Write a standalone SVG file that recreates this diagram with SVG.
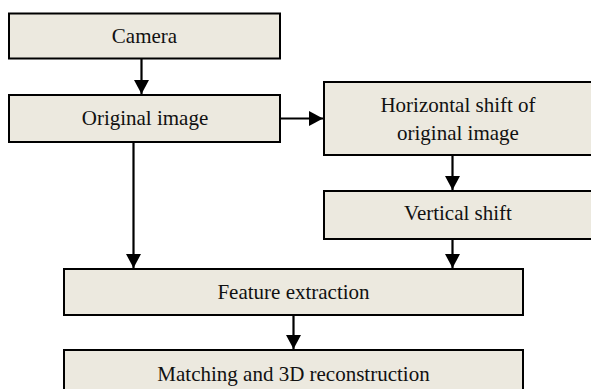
<svg xmlns="http://www.w3.org/2000/svg" width="591" height="389" viewBox="0 0 591 389">
  <style>
    .box { fill: #ECE9DF; stroke: #000; stroke-width: 2; }
    .lbl { font-family: "Liberation Serif", "Times New Roman", serif; font-size: 21px; fill: #111; text-anchor: middle; }
    .wire { stroke: #000; stroke-width: 2.2; fill: none; marker-end: url(#head); }
  </style>
  <defs>
    <marker id="head" markerUnits="userSpaceOnUse" markerWidth="16" markerHeight="15" refX="14" refY="7.5" orient="auto">
      <path d="M0,0 L14,7.5 L0,15 Z" fill="#000"/>
    </marker>
  </defs>
  <rect width="591" height="389" fill="#fff"/>

  <g id="connectors">
    <line class="wire" x1="141.5" y1="58" x2="141.5" y2="94"/>
    <line class="wire" x1="281" y1="118.5" x2="323" y2="118.5"/>
    <line class="wire" x1="452.5" y1="155" x2="452.5" y2="190"/>
    <line class="wire" x1="133.5" y1="142" x2="133.5" y2="268"/>
    <line class="wire" x1="452.5" y1="239" x2="452.5" y2="268"/>
    <line class="wire" x1="293.5" y1="315" x2="293.5" y2="349"/>
  </g>

  <g id="camera">
    <rect class="box" x="9" y="13.5" width="271" height="45"/>
    <text class="lbl" x="144.5" y="43">Camera</text>
  </g>
  <g id="original-image">
    <rect class="box" x="9" y="95" width="271" height="47"/>
    <text class="lbl" x="145" y="125">Original image</text>
  </g>
  <g id="horizontal-shift">
    <rect class="box" x="324" y="82" width="270" height="73"/>
    <text class="lbl" x="458" y="112">Horizontal shift of</text>
    <text class="lbl" x="458" y="140">original image</text>
  </g>
  <g id="vertical-shift">
    <rect class="box" x="324" y="191" width="270" height="48"/>
    <text class="lbl" x="458" y="220">Vertical shift</text>
  </g>
  <g id="feature-extraction">
    <rect class="box" x="64" y="269" width="459" height="46"/>
    <text class="lbl" x="293.5" y="299">Feature extraction</text>
  </g>
  <g id="matching">
    <rect class="box" x="64" y="350" width="459" height="45"/>
    <text class="lbl" x="293.5" y="381">Matching and 3D reconstruction</text>
  </g>
</svg>
